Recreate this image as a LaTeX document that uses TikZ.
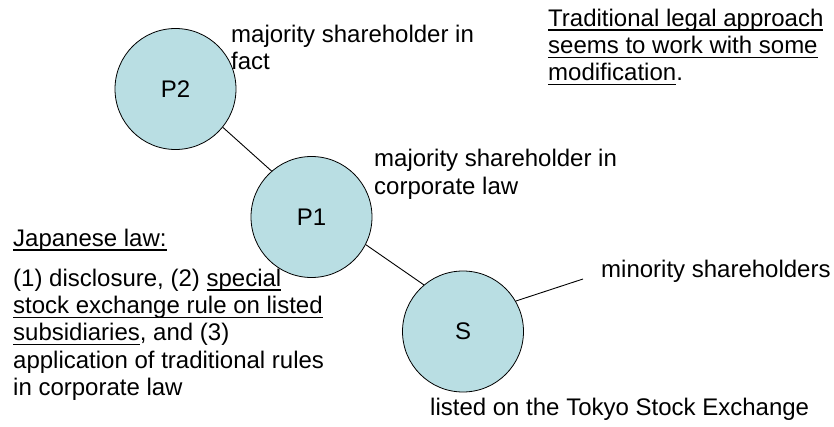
\documentclass[tikz,border=0pt]{standalone}
\usepackage{fontspec}
\setmainfont{Liberation Sans}
\newcommand\ulx[1]{\setbox0\hbox{#1}\rlap{\rule[-4.4pt]{\wd0}{1.3pt}}\box0}
\definecolor{circfill}{RGB}{185,222,227}
\begin{document}
\begin{tikzpicture}[x=1pt,y=-1pt,
  ent/.style={circle,draw,line width=0.8pt,fill=circfill,minimum size=121pt,inner sep=0pt,font=\fontsize{24}{27.4}\selectfont},
  lbl/.style={anchor=north west,inner sep=0pt,align=left,font=\fontsize{24}{27.4}\selectfont},
  link/.style={line width=0.9pt}]
\useasboundingbox (0,0) rectangle (834,427);
\node[ent] (P2) at (175.5,89) {P2};
\node[ent] (P1) at (311.5,217) {P1};
\node[ent] (S) at (463,331.5) {S};
\draw[link] (P2.-39) -- (P1.131);
\draw[link] (P1.-27) -- (S.130);
\coordinate (m) at (583,279);
\draw[link] (S.30) -- (m);
\node[lbl] (tr) at (548,6.8) {\strut\ulx{Traditional legal approach}\\\ulx{seems to work with some}\\\ulx{modification}.};
\node[lbl] (lp2) at (231,22.8) {\strut majority shareholder in\\fact};
\node[lbl] (lp1) at (374,147.3) {\strut majority shareholder in\\corporate law};
\node[lbl] (lmin) at (601,258.3) {\strut minority shareholders};
\node[lbl] (llist) at (430,395.8) {\strut listed on the Tokyo Stock Exchange};
\node[lbl] (jl) at (13,226.8) {\strut\ulx{Japanese law:}};
\node[lbl] (jtext) at (13,266.8) {\strut(1) disclosure, (2) \ulx{special}\\\ulx{stock exchange rule on listed}\\\ulx{subsidiaries}, and (3)\\application of traditional rules\\in corporate law};
\end{tikzpicture}
\end{document}
